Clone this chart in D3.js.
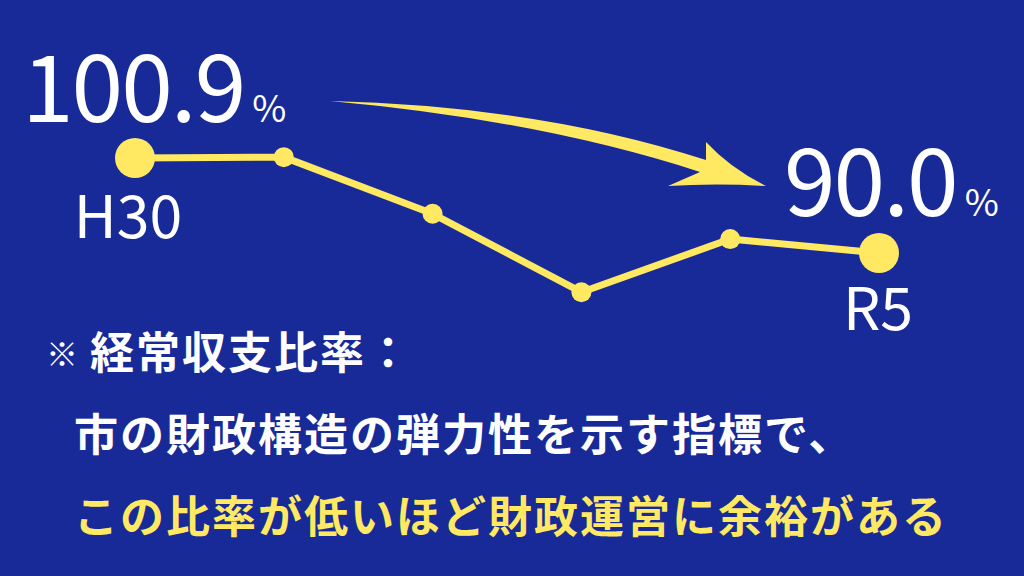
<!DOCTYPE html>
<html>
<head>
<meta charset="utf-8">
<script src="https://cdn.jsdelivr.net/npm/d3@7"></script>
<style>
  html, body { margin: 0; padding: 0; background: #172a98; }
  svg { display: block; }
</style>
</head>
<body>
<div id="main"></div>
<script>
// 経常収支比率 (%)
var years = ['H30', 'R1', 'R2', 'R3', 'R4', 'R5'];
var ratios = [100.9, 101.0, 94.5, 85.5, 91.6, 90.0];
var endLabels = ['H30', 'R5'];
var noteLines = [
  { mark: '※', text: '経常収支比率：', color: '#ffffff' },
  { mark: '', text: '市の財政構造の弾力性を示す指標で、', color: '#ffffff' },
  { mark: '', text: 'この比率が低いほど財政運営に余裕がある', color: '#ffe862' }
];

var W = 1024, H = 576;
var bg = '#172a98', yellow = '#ffe862';
var font = '"Noto Sans CJK JP", "Noto Sans", sans-serif';

var svg = d3.select('#main').append('svg')
    .attr('width', W).attr('height', H);

svg.append('rect').attr('width', W).attr('height', H).attr('fill', bg);

var x = d3.scalePoint().domain(years).range([135, 879]);
var y = d3.scaleLinear().domain([90.0, 100.9]).range([253, 158]);

// curved arrow (decoration)
svg.append('path')
    .attr('d', 'M330,101 Q540,106 706,160 L706,142 Q730,168 766,186 Q715,183 668,186 L700,172 Q540,120 330,101 Z')
    .attr('fill', yellow);

var line = d3.line()
    .x(function(d, i) { return x(years[i]); })
    .y(function(d) { return y(d); });

svg.append('path')
    .datum(ratios)
    .attr('d', line)
    .attr('fill', 'none')
    .attr('stroke', yellow)
    .attr('stroke-width', 7)
    .attr('stroke-linejoin', 'round');

svg.selectAll('circle.pt')
    .data(ratios)
    .enter().append('circle')
    .attr('class', 'pt')
    .attr('cx', function(d, i) { return x(years[i]); })
    .attr('cy', function(d) { return y(d); })
    .attr('r', function(d, i) { return (i === 0 || i === ratios.length - 1) ? 20 : 10; })
    .attr('fill', yellow);

// value labels
function valueLabel(val, px, py) {
  var t = svg.append('text')
      .attr('x', px).attr('y', py)
      .attr('fill', '#ffffff')
      .style('font-family', font);
  t.append('tspan').attr('font-size', 93).attr('letter-spacing', -2).text(val.toFixed(1));
  t.append('tspan').attr('font-size', 37).attr('dx', 8).text('%');
}
var first = ratios[0], last = ratios[ratios.length - 1];
valueLabel(first, x(years[0]) - 113, y(first) - 36);
valueLabel(last, x(years[years.length - 1]) - 95, y(last) - 37);

// year labels under end points
svg.selectAll('text.yr')
    .data(endLabels)
    .enter().append('text')
    .attr('class', 'yr')
    .attr('x', function(d, i) { return x(d) + (i === 0 ? -7 : -1); })
    .attr('y', function(d, i) { return y(i === 0 ? first : last) + (i === 0 ? 80 : 77); })
    .attr('text-anchor', 'middle')
    .attr('fill', '#ffffff')
    .attr('font-size', 59)
    .style('font-family', font)
    .text(function(d) { return d; });

// note text
var notes = svg.selectAll('text.note')
    .data(noteLines)
    .enter().append('text')
    .attr('class', 'note')
    .attr('x', function(d, i) { return i === 0 ? 46 : 74; })
    .attr('y', function(d, i) { return 369 + i * 82; })
    .attr('fill', function(d) { return d.color; })
    .attr('font-weight', 'bold')
    .style('font-family', font);

notes.filter(function(d) { return d.mark; })
  .append('tspan')
    .attr('font-size', 32)
    .attr('dy', -3)
    .text(function(d) { return d.mark; });

notes.append('tspan')
    .attr('x', function(d, i) { return i === 0 ? 90 : 74; })
    .attr('dy', function(d) { return d.mark ? 3 : 0; })
    .attr('font-size', 44)
    .attr('letter-spacing', 2)
    .text(function(d) { return d.text; });
</script>
</body>
</html>
